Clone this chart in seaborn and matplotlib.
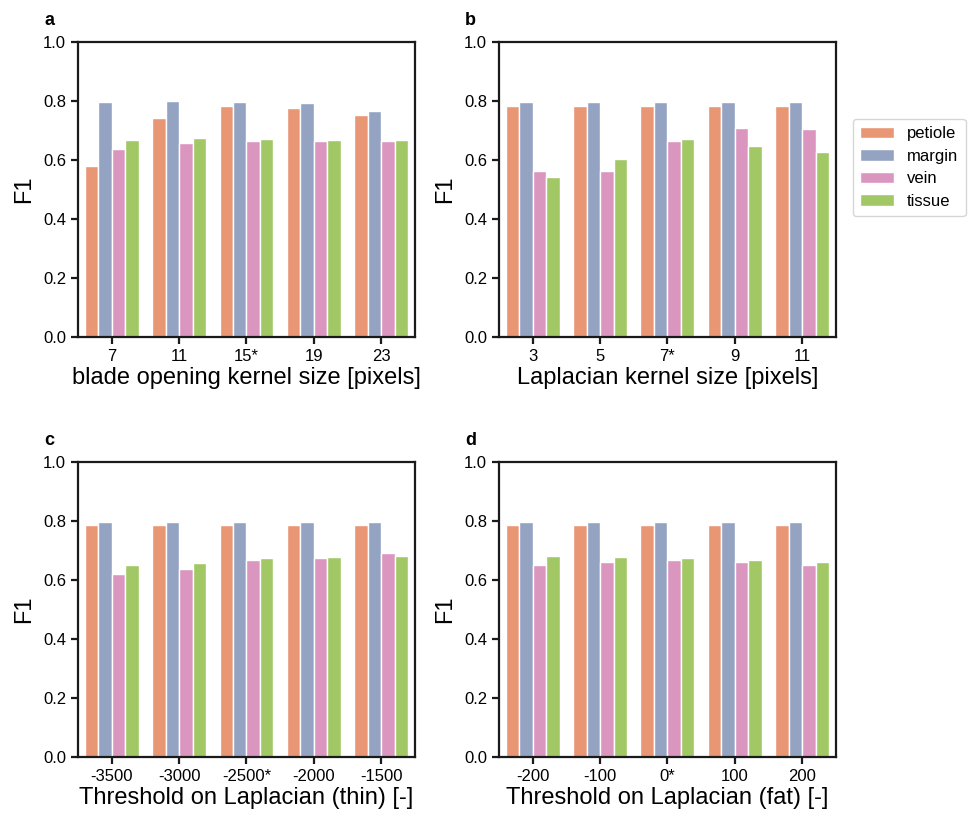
import numpy as np
import pandas as pd
import matplotlib
matplotlib.use('Agg')
import matplotlib.pyplot as plt
import seaborn as sns

# ── data ──
classes = ['petiole', 'margin', 'vein', 'tissue']

a_ticks = ['7', '11', '15*', '19', '23']
a_petiole = [0.580, 0.742, 0.782, 0.778, 0.751]
a_margin = [0.795, 0.800, 0.795, 0.792, 0.766]
a_vein = [0.636, 0.656, 0.663, 0.666, 0.666]
a_tissue = [0.668, 0.673, 0.672, 0.668, 0.669]

b_ticks = ['3', '5', '7*', '9', '11']
b_petiole = [0.782, 0.782, 0.782, 0.782, 0.782]
b_margin = [0.795, 0.795, 0.795, 0.795, 0.795]
b_vein = [0.562, 0.562, 0.663, 0.708, 0.704]
b_tissue = [0.541, 0.603, 0.672, 0.649, 0.628]

c_ticks = ['-3500', '-3000', '-2500*', '-2000', '-1500']
c_petiole = [0.786, 0.786, 0.786, 0.786, 0.786]
c_margin = [0.798, 0.798, 0.798, 0.798, 0.798]
c_vein = [0.620, 0.636, 0.667, 0.675, 0.690]
c_tissue = [0.650, 0.658, 0.673, 0.677, 0.680]

d_ticks = ['-200', '-100', '0*', '100', '200']
d_petiole = [0.786, 0.786, 0.786, 0.786, 0.786]
d_margin = [0.798, 0.798, 0.798, 0.798, 0.798]
d_vein = [0.650, 0.660, 0.667, 0.662, 0.651]
d_tissue = [0.681, 0.679, 0.673, 0.667, 0.662]

xlabels = ['blade opening kernel size [pixels]', 'Laplacian kernel size [pixels]',
           'Threshold on Laplacian (thin) [-]', 'Threshold on Laplacian (fat) [-]']
letters = ['a', 'b', 'c', 'd']


def long_df(ticks, *series):
    rows = []
    for cls, vals in zip(classes, series):
        for t, v in zip(ticks, vals):
            rows.append({'param': t, 'class': cls, 'F1': v})
    return pd.DataFrame(rows)


panels = [
    long_df(a_ticks, a_petiole, a_margin, a_vein, a_tissue),
    long_df(b_ticks, b_petiole, b_margin, b_vein, b_tissue),
    long_df(c_ticks, c_petiole, c_margin, c_vein, c_tissue),
    long_df(d_ticks, d_petiole, d_margin, d_vein, d_tissue),
]
tick_sets = [a_ticks, b_ticks, c_ticks, d_ticks]

sns.set_theme(style='ticks')
plt.rcParams['font.family'] = ['Liberation Sans', 'DejaVu Sans']
plt.rcParams['axes.linewidth'] = 1.6
plt.rcParams['axes.edgecolor'] = '#1a1a1a'
plt.rcParams['xtick.color'] = '#1a1a1a'
plt.rcParams['ytick.color'] = '#1a1a1a'
plt.rcParams['text.color'] = 'black'
plt.rcParams['axes.labelcolor'] = 'black'
plt.rcParams['xtick.labelcolor'] = 'black'
plt.rcParams['ytick.labelcolor'] = 'black'
plt.rcParams['xtick.major.width'] = 1.6
plt.rcParams['ytick.major.width'] = 1.6
plt.rcParams['xtick.major.size'] = 5
plt.rcParams['ytick.major.size'] = 5

palette = sns.color_palette('Set2')[1:5]

fig = plt.figure(figsize=(9.7, 8.19), dpi=100)
boxes = [
    [0.0804, 0.5885, 0.3474, 0.3602],
    [0.5144, 0.5885, 0.3474, 0.3602],
    [0.0804, 0.0757, 0.3474, 0.3602],
    [0.5144, 0.0757, 0.3474, 0.3602],
]

for i, (df, box) in enumerate(zip(panels, boxes)):
    ax = fig.add_axes(box)
    sns.barplot(data=df, x='param', y='F1', hue='class', order=tick_sets[i],
                hue_order=classes, palette=palette, edgecolor='white',
                linewidth=1, ax=ax)
    ax.set_ylim(0, 1.0)
    ax.set_yticks([0.0, 0.2, 0.4, 0.6, 0.8, 1.0])
    ax.set_ylabel('F1', fontsize=17, labelpad=6)
    ax.set_xlabel(xlabels[i], fontsize=17, labelpad=2)
    ax.tick_params(labelsize=12)
    ax.text(-0.085, 1.045, letters[i], transform=ax.transAxes, fontsize=13,
            fontweight='bold', ha='center', va='bottom')
    if i == 1:
        ax.legend(loc='upper left', bbox_to_anchor=(1.05, 0.74), borderaxespad=0,
                  fontsize=12, frameon=True, handlelength=2.0, handletextpad=0.8,
                  borderpad=0.45, labelspacing=0.45)
    else:
        ax.get_legend().remove()

plt.savefig('out.png', dpi=100)
plt.close()
